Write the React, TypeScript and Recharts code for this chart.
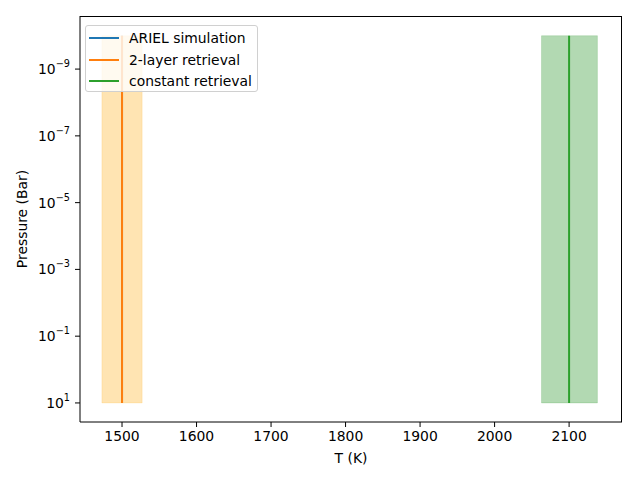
import {
  ComposedChart,
  Line,
  XAxis,
  YAxis,
  ReferenceArea,
} from 'recharts';

const FONT = '"DejaVu Sans", sans-serif';

const pressures = [1e-10, 10];
const arielT = [1500, 1500];
const twoLayerT = [1500, 1500];
const twoLayerLow = [1473, 1473];
const twoLayerHigh = [1527, 1527];
const constantT = [2100, 2100];
const constantLow = [2063, 2063];
const constantHigh = [2138, 2138];

const xTicks = [1500, 1600, 1700, 1800, 1900, 2000, 2100];
const yTicks = [1e1, 1e-1, 1e-3, 1e-5, 1e-7, 1e-9];
const X_DOMAIN = [1443.6, 2171];
const Y_DOMAIN = [2.57e-11, 37.2];

const SERIES = [
  { name: 'ARIEL simulation', color: '#1f77b4', temps: arielT },
  { name: '2-layer retrieval', color: '#ff7f0e', temps: twoLayerT },
  { name: 'constant retrieval', color: '#2ca02c', temps: constantT },
];

// bands were drawn with the named colours 'orange' and 'green' at alpha .3
const BANDS = [
  { color: '#ffa500', low: twoLayerLow, high: twoLayerHigh },
  { color: '#008000', low: constantLow, high: constantHigh },
];

const toPoints = (temps: number[]) => temps.map((t, i) => ({ T: t, P: pressures[i] }));

function YTick({ x, y, payload }: any) {
  const exp = Math.round(Math.log10(payload.value));
  const sup = exp < 0 ? '\u2212' + Math.abs(exp) : String(exp);
  return (
    <text x={x - 3} y={y} textAnchor="end" dominantBaseline="central" fontFamily={FONT} fontSize={13.9} fill="#000">
      <tspan>10</tspan>
      <tspan fontSize={9.7} dy={-6}>{sup}</tspan>
    </text>
  );
}

export default function App() {
  return (
    <div style={{ position: 'absolute', left: 0, top: 0, width: 640, height: 480, background: '#fff' }}>
      <ComposedChart width={640} height={480} margin={{ top: 16, right: 18, bottom: 0, left: 0 }}>
        <XAxis
          type="number"
          dataKey="T"
          domain={X_DOMAIN}
          ticks={xTicks}
          allowDataOverflow
          height={58}
          stroke="#000"
          tickSize={5}
          tick={{ fontSize: 13.9, fontFamily: FONT, fill: '#000', dy: 2 }}
          label={{ value: 'T (K)', position: 'insideBottom', offset: 17, fontSize: 13.9, fontFamily: FONT, fill: '#000' }}
        />
        <YAxis
          type="number"
          dataKey="P"
          scale="log"
          reversed
          domain={Y_DOMAIN}
          ticks={yTicks}
          allowDataOverflow
          width={80}
          stroke="#000"
          tickSize={5}
          tick={<YTick />}
          label={{ value: 'Pressure (Bar)', angle: -90, position: 'insideLeft', offset: 22, fontSize: 13.9, fontFamily: FONT, fill: '#000', style: { textAnchor: 'middle' } }}
        />
        {BANDS.map((b, i) => (
          <ReferenceArea
            key={i}
            x1={b.low[0]}
            x2={b.high[0]}
            y1={pressures[0]}
            y2={pressures[1]}
            fill={b.color}
            fillOpacity={0.3}
            stroke={b.color}
            strokeOpacity={0.15}
          />
        ))}
        {SERIES.map((s) => (
          <Line
            key={s.name}
            data={toPoints(s.temps)}
            dataKey="P"
            name={s.name}
            stroke={s.color}
            strokeWidth={2}
            dot={false}
            isAnimationActive={false}
          />
        ))}
      </ComposedChart>
      {/* top and right spines of the axes frame */}
      <div
        style={{
          position: 'absolute',
          left: 80,
          top: 16,
          width: 542,
          height: 406,
          borderTop: '1px solid #000',
          borderRight: '1px solid #000',
          boxSizing: 'border-box',
          pointerEvents: 'none',
        }}
      />
      <div
        style={{
          position: 'absolute',
          left: 85,
          top: 25,
          width: 171,
          height: 65,
          border: '1px solid #d0d0d0',
          borderRadius: 3,
          background: 'rgba(255,255,255,0.8)',
          fontFamily: FONT,
          fontSize: 13.9,
          color: '#000',
        }}
      >
        {SERIES.map((s, i) => (
          <div key={s.name} style={{ position: 'absolute', left: 0, top: 3 + i * 21.5, height: 18, display: 'flex', alignItems: 'center', whiteSpace: 'nowrap' }}>
            <span style={{ display: 'inline-block', marginLeft: 3, width: 30, height: 2, background: s.color }} />
            <span style={{ marginLeft: 10 }}>{s.name}</span>
          </div>
        ))}
      </div>
    </div>
  );
}
